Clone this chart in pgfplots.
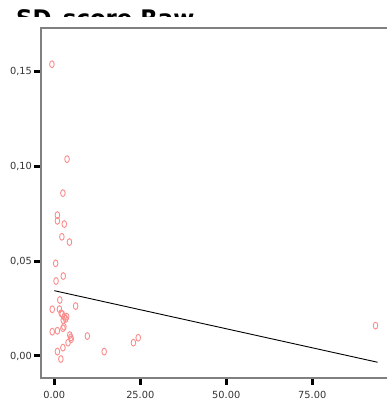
\documentclass[border=0pt]{standalone}
\usepackage{pgfplots}
\pgfplotsset{compat=1.18}
\usepackage{fontspec}
\newfontfamily\dv{DejaVu Sans}
\definecolor{ptpink}{RGB}{250,140,140}
\begin{document}
\begin{tikzpicture}
\useasboundingbox (0,0) rectangle (387pt,407pt);
\clip (0,0) rectangle (387pt,407pt);
\begin{scope}
\clip (0,390pt) rectangle (387pt,407pt);
\node[anchor=base west, inner sep=0pt] at (16pt,380pt) {\dv\bfseries\fontsize{22.8}{24}\selectfont SD\_score Raw};
\end{scope}
\begin{axis}[
  at={(41pt,29pt)}, anchor=south west,
  scale only axis, width=351pt, height=350pt,
  xmin=-3.87, xmax=98.2, ymin=-0.0116, ymax=0.1728,
  xtick={0,25,50,75}, xticklabels={0.00,25.00,50.00,75.00},
  ytick={0,0.05,0.10,0.15}, yticklabels={{0,00},{0,05},{0,10},{0,15}},
  tick pos=left, tick align=outside,
  major tick length=6.5pt,
  tick style={line width=3pt, black},
  axis line style={draw=gray, line width=1.2pt},
  ticklabel style={font=\dv\fontsize{9.8}{10}\selectfont, text=black!80},
  xticklabel style={yshift=-3pt},
  yticklabel style={xshift=1pt},
  scaled ticks=false,
  clip=false,
]
\addplot[only marks, mark=o, mark size=2.3pt, draw=ptpink, mark options={line width=0.9pt, yscale=1.5}] coordinates {
(-0.7,0.1537) (3.7,0.1037) (2.5,0.0858) (0.9,0.0742) (0.9,0.0712) (2.9,0.0695)
(2.2,0.0628) (4.4,0.060) (0.4,0.0488) (2.6,0.0421) (0.5,0.0395) (1.6,0.0295)
(-0.6,0.0246) (1.5,0.0247) (6.2,0.0263) (2.3,0.0221) (2.9,0.0207) (3.6,0.0207)
(2.6,0.0189) (2.0,0.0225) (3.3,0.0195) (-0.6,0.0128) (0.9,0.0133) (2.5,0.0146)
(2.8,0.0154) (4.8,0.0098) (4.5,0.011) (4.9,0.0088) (4.0,0.007) (9.6,0.0105)
(2.5,0.0044) (0.9,0.0023) (1.9,-0.0016) (14.5,0.0023) (23.0,0.007) (24.4,0.0096)
(93.4,0.016)
};
\addplot[black, line width=0.9pt] coordinates {(0,0.0344) (94,-0.0033)};
\end{axis}
\end{tikzpicture}
\end{document}
